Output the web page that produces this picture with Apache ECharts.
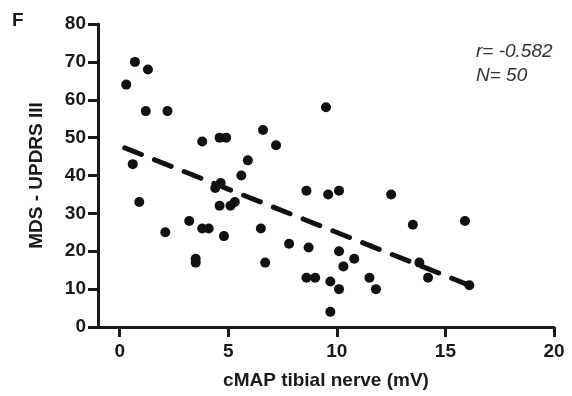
<!DOCTYPE html>
<html>
<head>
<meta charset="utf-8">
<script src="https://cdn.jsdelivr.net/npm/echarts@6/dist/echarts.min.js"></script>
<style>
html,body{margin:0;padding:0;background:#fff;}
#chart{width:572px;height:396px;}
</style>
</head>
<body>
<div id="chart"></div>
<script>
// Data
const cmapValues = [0.3, 0.7, 1.3, 1.2, 2.2, 0.6, 0.9, 2.1, 3.2, 3.5, 3.5, 3.8, 4.1, 3.8, 4.6, 4.9, 4.4, 4.65, 4.6, 4.8, 5.1, 5.3, 5.6, 5.9, 6.6, 7.2, 6.5, 6.7, 7.8, 8.6, 8.7, 8.6, 9.0, 9.5, 9.6, 10.1, 9.7, 9.7, 10.1, 10.1, 10.3, 10.8, 11.5, 11.8, 12.5, 13.5, 13.8, 14.2, 15.9, 16.1];
const updrsValues = [64, 70, 68, 57, 57, 43, 33, 25, 28, 18, 17, 26, 26, 49, 50, 50, 36.7, 38, 32, 24, 32, 33, 40, 44, 52, 48, 26, 17, 22, 36, 21, 13, 13, 58, 35, 36, 12, 4, 20, 10, 16, 18, 13, 10, 35, 27, 17, 13, 28, 11];
const trendX = [0.23, 16.2];
const trendY = [47.3, 10.8];
const xTickValues = [0, 5, 10, 15, 20];
const statLines = ['r= -0.582', 'N= 50'];
const panelLetter = 'F';

const points = cmapValues.map((x, i) => [x, updrsValues[i]]);
const trend = trendX.map((x, i) => [x, trendY[i]]);
const ink = '#1a1a1a';
const font = '"Liberation Sans", Arial, Helvetica, sans-serif';

const chart = echarts.init(document.getElementById('chart'), null, {renderer: 'canvas'});
chart.setOption({
  animation: false,
  backgroundColor: '#fff',
  grid: {left: 98, right: 18, top: 24, bottom: 69, containLabel: false},
  xAxis: {
    type: 'value', min: -1, max: 20,
    axisLine: {show: true, onZero: false, lineStyle: {color: ink, width: 3}},
    axisTick: {show: true, length: 10, lineStyle: {color: ink, width: 3}, customValues: xTickValues},
    axisLabel: {customValues: xTickValues, color: ink, fontSize: 19, fontWeight: 'bold', fontFamily: font, margin: 15},
    splitLine: {show: false},
    name: 'cMAP tibial nerve (mV)', nameLocation: 'middle', nameGap: 44,
    nameTextStyle: {color: ink, fontSize: 19, fontWeight: 'bold', fontFamily: font}
  },
  yAxis: {
    type: 'value', min: 0, max: 80, interval: 10,
    axisLine: {show: true, onZero: false, lineStyle: {color: ink, width: 3}},
    axisTick: {show: true, length: 10, lineStyle: {color: ink, width: 3}},
    axisLabel: {color: ink, fontSize: 19, fontWeight: 'bold', fontFamily: font, margin: 12},
    splitLine: {show: false},
    name: 'MDS - UPDRS III', nameLocation: 'middle', nameGap: 52, nameRotate: 90,
    nameTextStyle: {color: ink, fontSize: 19, fontWeight: 'bold', fontFamily: font}
  },
  series: [
    {
      type: 'scatter', data: points, symbol: 'circle', symbolSize: 10,
      itemStyle: {color: '#111', opacity: 1}, z: 3
    },
    {
      type: 'line', data: trend, symbol: 'none', showSymbol: false,
      lineStyle: {color: '#111', width: 5, type: [18, 14], cap: 'round'}, z: 4
    }
  ],
  graphic: [
    {type: 'text', left: 12, top: 11, style: {text: panelLetter, font: 'bold 19px ' + font, fill: ink}},
    {type: 'text', left: 476, top: 42, style: {text: statLines[0], font: 'italic 19px ' + font, fill: '#333'}},
    {type: 'text', left: 476, top: 66, style: {text: statLines[1], font: 'italic 19px ' + font, fill: '#333'}}
  ]
});
</script>
</body>
</html>
